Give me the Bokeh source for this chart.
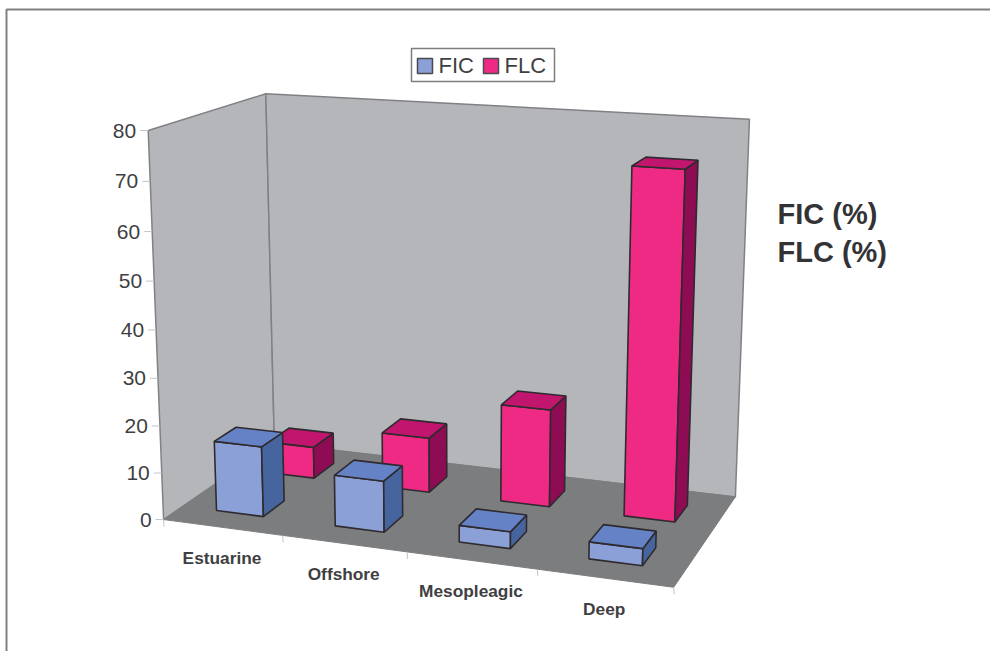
import numpy as np
from bokeh.embed import file_html
from bokeh.models import Range1d
from bokeh.plotting import figure
from bokeh.resources import INLINE
from bokeh.core.properties import value

# Chart data
categories = ["Estuarine", "Offshore", "Mesopleagic", "Deep"]
fic_values = [15, 10.8, 3.5, 3.5]
flc_values = [7, 12, 21, 72.6]
y_ticks = [0, 10, 20, 30, 40, 50, 60, 70, 80]
series_names = ["FIC", "FLC"]
side_notes = ["FIC (%)", "FLC (%)"]

# Shades per series: front face, top face, right face
FIC_SHADES = ("#8ba0d6", "#6682c6", "#46659f")
FLC_SHADES = ("#ee2a85", "#c2156e", "#8e0c54")
WALL = "#b5b6ba"
FLOOR = "#7c7d7f"
EDGE = "#2e2a2e"
TEXT = "#3f3f42"

# Camera: world corners (col, depth, value) and where they land on the page
world = np.array([
    (0, 0, 0), (4, 0, 0), (4, 1, 0), (0, 1, 0),
    (0, 0, 80), (0, 1, 80), (4, 1, 80),
], dtype=float)
page = np.array([
    (163, 518), (673, 588), (735, 495), (274, 444),
    (148, 130), (265, 93), (749, 119),
], dtype=float)


def fit_camera(w, s):
    rows, rhs = [], []
    for (x, y, z), (u, v) in zip(w, s):
        rows.append([x, y, z, 1, 0, 0, 0, 0, -u * x, -u * y, -u * z])
        rhs.append(u)
        rows.append([0, 0, 0, 0, x, y, z, 1, -v * x, -v * y, -v * z])
        rhs.append(v)
    sol = np.linalg.lstsq(np.array(rows), np.array(rhs), rcond=None)[0]
    return np.append(sol, 1.0).reshape(3, 4)


CAM = fit_camera(world, page)


def project(x, y, z):
    h = CAM @ np.array([x, y, z, 1.0])
    return h[0] / h[2], h[1] / h[2]


def face(pts):
    xy = [project(*pt) for pt in pts]
    return [q[0] for q in xy], [q[1] for q in xy]


p = figure(width=990, height=651, output_backend="svg", toolbar_location=None,
           x_range=Range1d(0, 990), y_range=Range1d(651, 0),
           min_border=0, outline_line_color=None, background_fill_color="white",
           border_fill_color="white")
p.axis.visible = False
p.grid.visible = False


def poly(pts, fill, line=None, width=1.0):
    xs, ys = face(pts)
    p.patch(xs, ys, fill_color=fill, line_color=line or fill, line_width=width)


# Outer frame, open on the right and the bottom
p.line([990, 6, 6], [9, 9, 651], line_color="#808080", line_width=2)

# Walls and floor
poly([(0, 0, 0), (0, 1, 0), (0, 1, 80), (0, 0, 80)], WALL, "#808185", 1.5)
poly([(0, 1, 0), (4, 1, 0), (4, 1, 80), (0, 1, 80)], WALL, "#808185", 1.5)
poly([(0, 0, 0), (4, 0, 0), (4, 1, 0), (0, 1, 0)], FLOOR)

# Axis ticks and value labels
for t in y_ticks:
    x0, y0 = project(0, 0, t)
    p.line([x0 - 8, x0], [y0, y0], line_color="#c4c4c4", line_width=1)
    p.text([x0 - 12], [y0], text=[str(t)], text_align="right", text_baseline="middle",
           text_font=value("Liberation Sans"), text_font_size="21px", text_color=TEXT)

for i in range(5):
    x0, y0 = project(i, 0, 0)
    p.line([x0, x0 + 0.5], [y0, y0 + 7], line_color="#c4c4c4", line_width=1)

for i, name in enumerate(categories):
    x0, y0 = project(i + 0.5, 0, 0)
    p.text([x0 - 0.5], [y0 + 30.5], text=[name], text_align="center", text_baseline="middle",
           text_font=value("Liberation Sans"), text_font_style="bold", text_font_size="17.3px",
           text_color=TEXT)

# Column footprint inside its category cell and its depth slot
X0, X1 = 0.29, 0.69
D_NEAR = {0: 0.16, 1: 0.64}
D_FAR = {0: 0.35, 1: 0.84}


def bar(col, row, val, shades):
    x0, x1 = col + X0, col + X1
    d0, d1 = D_NEAR[row], D_FAR[row]
    front, top, side = shades
    poly([(x0, d0, 0), (x1, d0, 0), (x1, d0, val), (x0, d0, val)], front, EDGE, 1.6)
    poly([(x1, d0, 0), (x1, d1, 0), (x1, d1, val), (x1, d0, val)], side, EDGE, 1.6)
    poly([(x0, d0, val), (x1, d0, val), (x1, d1, val), (x0, d1, val)], top, EDGE, 1.6)


# The back row goes down first so the front row can cover it
for i, v in enumerate(flc_values):
    bar(i, 1, v, FLC_SHADES)
for i, v in enumerate(fic_values):
    bar(i, 0, v, FIC_SHADES)

# Legend box
p.quad(left=[411], right=[554], top=[48], bottom=[81], fill_color="white",
       line_color="#7d7d7d", line_width=1.5)
for lx, col, name in zip([417, 483], [FIC_SHADES[0], FLC_SHADES[0]], series_names):
    p.quad(left=[lx], right=[lx + 15], top=[58], bottom=[73], fill_color=col,
           line_color="#4a4a50", line_width=1.5)
    p.text([lx + 21], [64.5], text=[name], text_baseline="middle",
           text_font=value("Liberation Sans"), text_font_size="22px", text_color=TEXT)

# Side notes
for yy, note in zip([213, 251], side_notes):
    p.text([777], [yy], text=[note], text_baseline="middle",
           text_font=value("Liberation Sans"), text_font_style="bold", text_font_size="29px",
           text_color="#333336")

# The second note runs into the edge of its panel and is cut off there
p.quad(left=[888], right=[905], top=[235], bottom=[270], fill_color="white", line_color=None)

open("out.html", "w").write(file_html(p, INLINE))
